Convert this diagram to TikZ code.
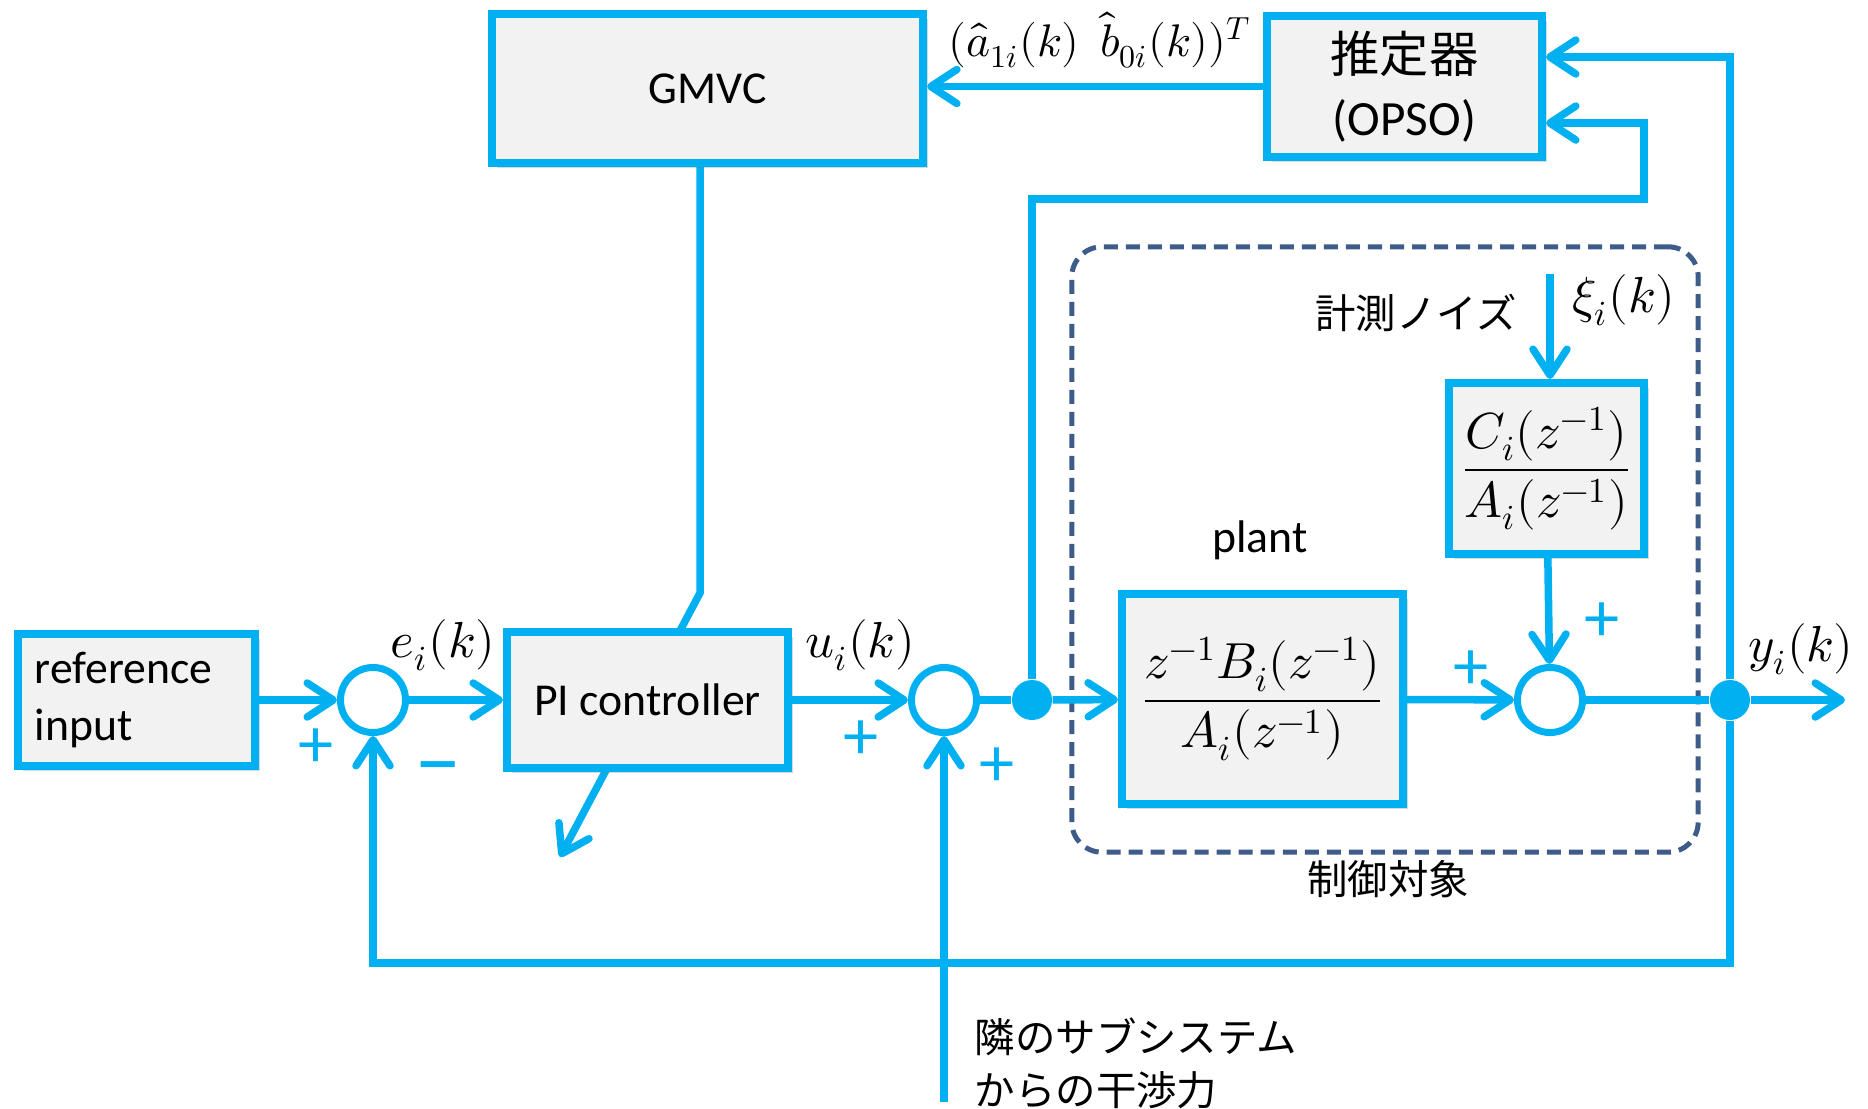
\documentclass[tikz,border=0pt]{standalone}
\usepackage{fontspec}
\setmainfont{Carlito}
\newfontfamily\jpfont{Noto Sans CJK JP}
\usepackage{unicode-math}
\setmathfont{Latin Modern Math}
\usepackage{tikz}
\usetikzlibrary{arrows.meta,positioning,shadows,backgrounds}
\definecolor{flow}{HTML}{00B0F0}
\definecolor{boxfill}{HTML}{F2F2F2}
\definecolor{groupline}{HTML}{3E5C8A}

\begin{document}
\begin{tikzpicture}[
    x=0.01cm, y=-0.01cm,
    block/.style={rectangle, draw=flow, line width=0.08cm, fill=boxfill, drop shadow={shadow xshift=0.05cm, shadow yshift=-0.05cm, opacity=0.3}, font=\fontsize{13}{16}\selectfont, align=center, inner sep=0pt},
    sumnode/.style={circle, draw=flow, line width=0.07cm, fill=white, minimum size=0.65cm, inner sep=0pt},
    joint/.style={circle, fill=flow, minimum size=0.4cm, inner sep=0pt},
    arrow/.style={-{Straight Barb[length=0.26cm,width=0.34cm,round]}, line width=0.075cm, flow},
    wire/.style={line width=0.075cm, flow},
    pm/.style={font=\fontsize{20}{20}\selectfont, text=flow, inner sep=0pt},
    lbl/.style={font=\fontsize{14.4}{17}\selectfont, inner sep=0pt},
    jlabel/.style={font=\jpfont\fontsize{11.5}{15}\selectfont, inner sep=0pt, align=left},
    groupbox/.style={rectangle, rounded corners=0.3cm, draw=groupline, line width=0.05cm, dash pattern=on 0.14cm off 0.08cm, inner sep=0pt}
]
\useasboundingbox (0,0) rectangle (1868,1108);

% Plant group
\node[groupbox, minimum width=6.26cm, minimum height=6.05cm] (ctrlobj) at (1385,549.5) {};

% Blocks
\node[block, minimum width=4.31cm, minimum height=1.49cm] (gmvc) at (707.5,88.5) {GMVC};
\node[block, minimum width=2.75cm, minimum height=1.41cm, font=\fontsize{14}{18}\selectfont] (est) at (1404.5,86.5) {{\jpfont 推定器}\\(OPSO)};
\node[block, minimum width=2.37cm, minimum height=1.32cm, text width=2.03cm, align=left] (ref) at (136.5,700) {reference\\input};
\node[block, minimum width=2.81cm, minimum height=1.36cm] (pi) at (647.5,700) {PI controller};
\node[block, minimum width=2.81cm, minimum height=2.10cm, font=\fontsize{14.4}{17}\selectfont] (plant) at (1262.5,699) {$\displaystyle\frac{z^{-1}B_i(z^{-1})}{A_i(z^{-1})}$};
\node[block, minimum width=1.95cm, minimum height=1.71cm, font=\fontsize{14.4}{17}\selectfont] (cbox) at (1546.5,468.5) {$\displaystyle\frac{C_i(z^{-1})}{A_i(z^{-1})}$};

% Summing points and branches
\node[sumnode] (sum1) at (373,700) {};
\node[sumnode] (sum2) at (944,700) {};
\node[sumnode] (sum3) at (1550,700) {};
\node[joint] (split) at (1032,700) {};
\node[joint] (ysplit) at (1730,700) {};
\coordinate (yout) at (1845,700);
\coordinate (xiin) at (1550,274);
\coordinate (distin) at (944,1102);
\coordinate (fbbottom) at (1730,963);
\coordinate (estfb) at (1644,199);
\coordinate (tunebend) at (700,593);
\coordinate (tunetip) at (560,857);

% Tuning arrow (behind PI controller)
\begin{scope}[on background layer]
\draw[arrow] (gmvc.south -| tunebend) -- (tunebend) -- (tunetip);
\end{scope}

% Arrows
\draw[arrow] (ref.east) -- (sum1.west);
\draw[arrow] (sum1) -- (pi);
\draw[arrow] (pi) -- (sum2);
\draw[wire] (sum2) -- (split);
\draw[arrow] (split) -- (plant);
\draw[arrow] (plant) -- (sum3);
\draw[wire] (sum3) -- (ysplit);
\draw[arrow] (ysplit) -- (yout);
\draw[arrow] (cbox) -- (sum3);
\draw[arrow] (xiin) -- (xiin |- cbox.north);
\draw[arrow] (distin) -- (sum2);
\draw[arrow] (ysplit) -- (fbbottom) -| (sum1.south);
\draw[arrow] (split) |- (estfb) |- ([yshift=-0.365cm]est.east);
\draw[arrow] (ysplit) |- ([yshift=0.295cm]est.east);
\draw[arrow] (est.west) -- (est.west -| gmvc.east);

% Labels
\node[lbl, font=\fontsize{13}{16}\selectfont] (thetalbl) at (1100,40) {$(\hat{a}_{1i}(k)\ \ \hat{b}_{0i}(k))^T$};
\node[lbl] (elbl) at (443,645) {$e_i(k)$};
\node[lbl] (ulbl) at (860,645) {$u_i(k)$};
\node[lbl] (ylbl) at (1801,649) {$y_i(k)$};
\node[lbl] (xilbl) at (1624,300) {$\xi_i(k)$};
\node[font=\fontsize{13}{16}\selectfont, inner sep=0pt] (plantlbl) at (1260,540) {plant};
\node[jlabel] (noiselbl) at (1416,313) {計測ノイズ};
\node[jlabel] (objlbl) at (1388,879) {制御対象};
\node[jlabel, anchor=west] (distlbl) at (974,1063) {隣のサブシステム\\からの干渉力};

% Signs
\node[pm] (s1a) at (316,748) {+};
\node[pm, font=\fontsize{26}{26}\selectfont] (s1b) at (438,778) {−};
\node[pm] (s2a) at (861,740) {+};
\node[pm] (s2b) at (997,767) {+};
\node[pm] (s3a) at (1471,670) {+};
\node[pm] (s3b) at (1602,622) {+};
\end{tikzpicture}
\end{document}
